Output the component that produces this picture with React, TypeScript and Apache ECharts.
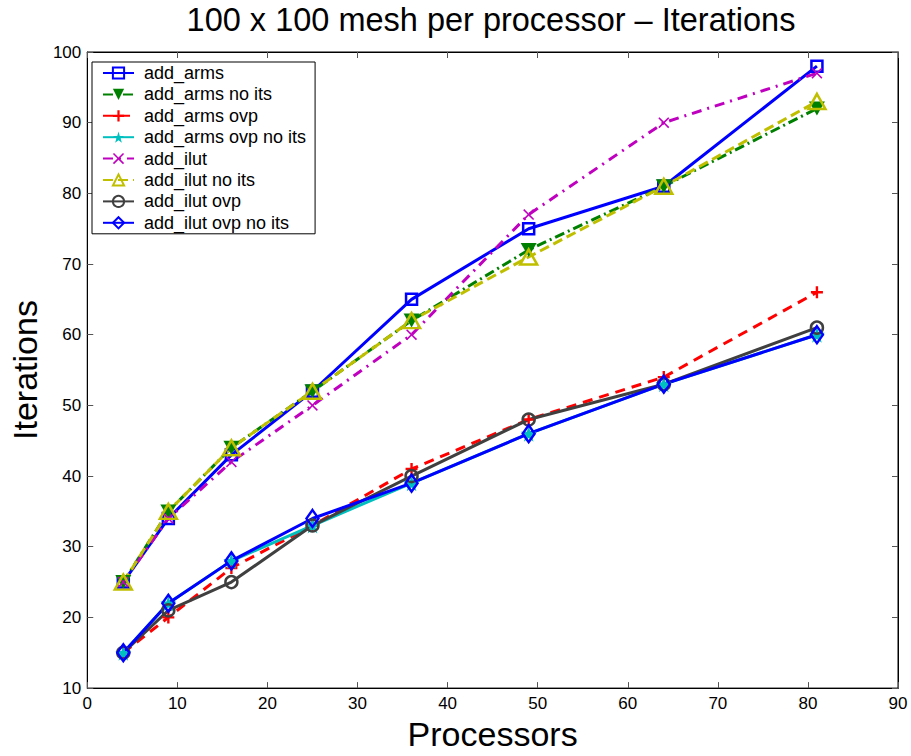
import React, { useEffect, useRef } from "react";
import * as echarts from "echarts";

const processors = [4, 9, 16, 25, 36, 49, 64, 81];
const addArms = [25, 34, 43, 52, 65, 75, 81, 98];
const addArmsNoIts = [25, 35, 44, 52, 62, 72, 81, 92];
const addArmsOvp = [15, 20, 27, 33, 41, 48, 54, 66];
const addArmsOvpNoIts = [15, 22, 28, 33, 39, 46, 53, 60];
const addIlut = [25, 34, 42, 50, 60, 77, 90, 97];
const addIlutNoIts = [25, 35, 44, 52, 62, 71, 81, 93];
const addIlutOvp = [15, 21, 25, 33, 40, 48, 53, 61];
const addIlutOvpNoIts = [15, 22, 28, 34, 39, 46, 53, 60];

const PLUS = "path://M4,0 H6 V4 H10 V6 H6 V10 H4 V6 H0 V4 H4 Z";
const XMARK = "path://M1,0 L5,4 L9,0 L10,1 L6,5 L10,9 L9,10 L5,6 L1,10 L0,9 L4,5 L0,1 Z";
const STAR = "path://M50,0 L61,35 L98,35 L68,57 L79,91 L50,70 L21,91 L32,57 L2,35 L39,35 Z";

const FONT = "Liberation Sans, Arial, Helvetica, sans-serif";

function pts(ys: number[]) {
  return processors.map((x, i) => [x, ys[i]]);
}

function mk(
  name: string,
  ys: number[],
  color: string,
  lineType: any,
  symbol: string,
  size: any,
  hollow: boolean,
  rotate = 0
) {
  return {
    name,
    type: "line",
    data: pts(ys),
    symbol,
    symbolSize: size,
    symbolRotate: rotate,
    lineStyle: { color, width: 3, type: lineType },
    itemStyle: hollow
      ? { color: "rgba(255,255,255,0)", borderColor: color, borderWidth: 2.5 }
      : { color, borderColor: color, borderWidth: 0 },
    emphasis: { disabled: true },
    z: 2,
  };
}

export default function App() {
  const ref = useRef<HTMLDivElement>(null);
  useEffect(() => {
    const chart = echarts.init(ref.current!, null, { renderer: "svg" });
    const axisCommon = {
      type: "value",
      axisLine: { show: true, onZero: false, lineStyle: { color: "#000", width: 1 } },
      axisTick: { show: true, inside: true, length: 6, lineStyle: { color: "#555" } },
      splitLine: { show: false },
    };
    chart.setOption({
      animation: false,
      backgroundColor: "#fff",
      graphic: [
        {
          type: "text",
          x: 491,
          y: 36,
          style: {
            text: "100 x 100 mesh per processor \u2013 Iterations",
            fontFamily: FONT,
            fontSize: 32.5,
            fill: "#000",
            textAlign: "center",
            textVerticalAlign: "bottom",
          },
        },
      ],
      legend: {
        orient: "vertical",
        left: 92,
        top: 62,
        backgroundColor: "#fff",
        borderColor: "#000",
        borderWidth: 1,
        padding: [2, 9, 2, 10],
        itemGap: 3.4,
        itemWidth: 31,
        itemHeight: 14,
        textStyle: { fontFamily: FONT, fontSize: 18, color: "#000", padding: [0, 0, 0, 5] },
      },
      grid: { left: 84, right: 13, top: 52, bottom: 61, show: true, borderColor: "#000", borderWidth: 1 },
      xAxis: [
        {
          ...axisCommon,
          min: 0,
          max: 90,
          interval: 10,
          position: "bottom",
          name: "Processors",
          nameLocation: "middle",
          nameGap: 25,
          nameTextStyle: { fontFamily: FONT, fontSize: 34, color: "#000" },
          axisLabel: { fontFamily: FONT, fontSize: 17, color: "#000", margin: 7 },
        },
        {
          ...axisCommon,
          min: 0,
          max: 90,
          interval: 10,
          position: "top",
          axisLabel: { show: false },
        },
      ],
      yAxis: [
        {
          ...axisCommon,
          min: 10,
          max: 100,
          interval: 10,
          position: "left",
          name: "Iterations",
          nameLocation: "middle",
          nameGap: 41,
          nameTextStyle: { fontFamily: FONT, fontSize: 34, color: "#000" },
          axisLabel: { fontFamily: FONT, fontSize: 17, color: "#000", margin: 6 },
        },
        {
          ...axisCommon,
          min: 10,
          max: 100,
          interval: 10,
          position: "right",
          axisLabel: { show: false },
        },
      ],
      series: [
        mk("add_arms", addArms, "#0000ff", "solid", "rect", 11, true),
        mk("add_arms no its", addArmsNoIts, "#008000", [10, 4, 2, 4], "triangle", [16, 14], false, 180),
        mk("add_arms ovp", addArmsOvp, "#ff0000", [10, 7], PLUS, 12, false),
        mk("add_arms ovp no its", addArmsOvpNoIts, "#00bfbf", "solid", STAR, 16, false),
        mk("add_ilut", addIlut, "#bf00bf", [10, 6, 2, 6], XMARK, 11, false),
        mk("add_ilut no its", addIlutNoIts, "#bfbf00", [10, 5], "triangle", [17, 15], true),
        mk("add_ilut ovp", addIlutOvp, "#404040", "solid", "circle", 12, true),
        mk("add_ilut ovp no its", addIlutOvpNoIts, "#0000ff", "solid", "diamond", [12, 17], true),
      ],
    });
    return () => chart.dispose();
  }, []);
  return <div ref={ref} style={{ position: "fixed", left: 0, top: 0, width: 911, height: 756 }} />;
}
